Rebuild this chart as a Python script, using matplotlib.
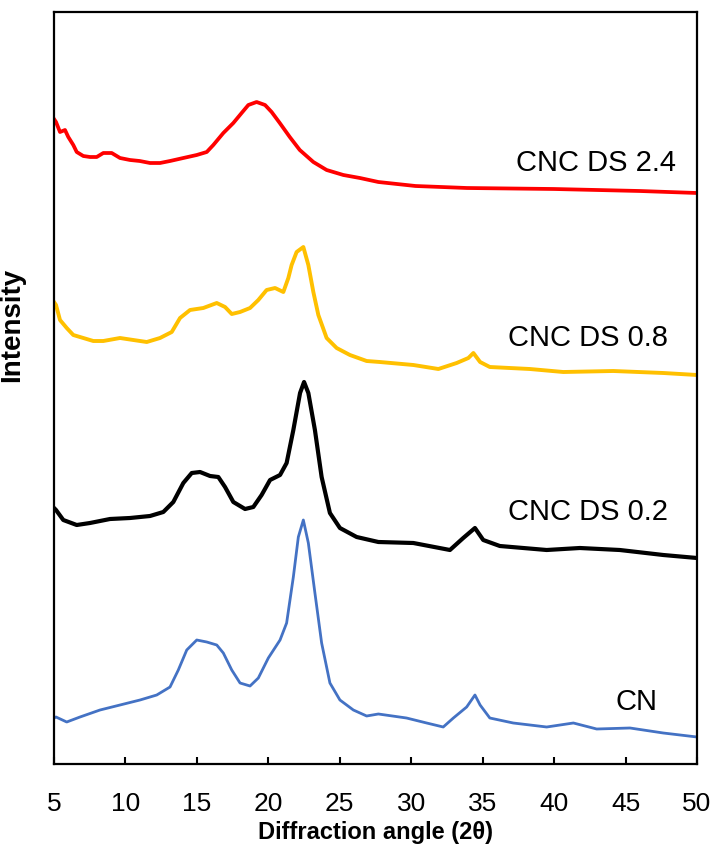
import matplotlib
matplotlib.use("Agg")
import matplotlib.pyplot as plt

plt.rcParams['font.family'] = ['Liberation Sans', 'DejaVu Sans']

# XRD patterns, stacked with a vertical offset (intensity in a.u.)
cn_x = [5.0, 5.14, 5.89, 6.82, 8.22, 9.62, 11.02, 12.19, 13.12, 13.7, 14.29, 14.99, 15.69,
        16.39, 16.85, 17.44, 18.02, 18.72, 19.3, 20.0, 20.82, 21.28, 21.75, 22.1, 22.45,
        22.8, 23.26, 23.73, 24.31, 25.01, 25.95, 26.88, 27.7, 29.67, 31.08, 32.24, 32.95,
        33.88, 34.46, 34.82, 35.5, 37.14, 39.48, 41.35, 42.98, 45.31, 47.64, 50.0]
cn_y = [46, 47, 42, 47, 54, 59, 64, 69, 77, 94, 114, 124, 122,
        119, 111, 94, 81, 78, 86, 106, 124, 141, 187, 227, 244,
        221, 171, 121, 81, 64, 54, 48, 50, 46, 41, 37, 46,
        57, 69, 59, 46, 41, 37, 41, 35, 36, 31, 27]

ds02_x = [5.0, 5.14, 5.65, 6.59, 7.52, 8.92, 10.32, 11.72, 12.65, 13.35, 14.05, 14.64,
          15.22, 15.92, 16.5, 16.97, 17.55, 18.37, 18.95, 19.53, 20.12, 20.82, 21.28,
          21.75, 22.22, 22.5, 22.8, 23.26, 23.73, 24.31, 25.01, 26.18, 27.7, 30.15,
          32.71, 33.64, 34.46, 35.04, 36.2, 39.48, 41.8, 44.6, 47.64, 50.0]
ds02_y = [256, 254, 244, 239, 241, 245, 246, 248, 252, 262, 281, 291,
          292, 288, 287, 277, 262, 255, 257, 269, 284, 289, 301,
          334, 371, 382, 371, 334, 287, 251, 236, 227, 222, 221,
          214, 226, 236, 224, 218, 214, 216, 214, 209, 206]

ds08_x = [5.0, 5.14, 5.42, 5.89, 6.35, 7.05, 7.75, 8.45, 9.62, 10.55, 11.49, 12.42, 13.24,
          13.82, 14.52, 15.45, 16.39, 16.97, 17.44, 18.02, 18.72, 19.3, 19.88, 20.47,
          21.05, 21.4, 21.63, 21.98, 22.45, 22.8, 23.15, 23.5, 24.08, 24.78, 25.71,
          26.88, 27.8, 30.15, 31.9, 33.18, 34.0, 34.35, 34.82, 35.5, 38.3, 40.64,
          44.14, 47.64, 50.0]
ds08_y = [462, 459, 444, 436, 429, 426, 423, 423, 426, 424, 422, 426, 432,
          446, 454, 456, 461, 457, 450, 452, 456, 464, 474, 476,
          472, 486, 499, 512, 517, 499, 472, 449, 426, 416, 409,
          403, 402, 399, 395, 401, 406, 411, 402, 397, 395, 392,
          393, 391, 389]

ds24_x = [5.0, 5.14, 5.42, 5.77, 6.0, 6.35, 6.59, 7.05, 7.52, 7.99, 8.45, 9.04, 9.62,
          10.32, 11.0, 11.72, 12.42, 13.12, 14.05, 14.99, 15.69, 16.15, 16.85, 17.55,
          18.13, 18.6, 19.18, 19.77, 20.23, 20.8, 21.5, 22.2, 23.15, 24.08, 25.25,
          26.41, 27.7, 30.3, 33.9, 40.0, 46.0, 50.0]
ds24_y = [645, 642, 632, 634, 627, 619, 612, 608, 607, 607, 611, 611, 606,
          604, 603, 601, 601, 603, 606, 609, 612, 619, 631, 641,
          651, 659, 662, 659, 652, 641, 627, 614, 602, 594, 589,
          586, 582, 578, 576, 575, 573, 571]

labels = ['CN', 'CNC DS 0.2', 'CNC DS 0.8', 'CNC DS 2.4']
colors = ['#4472C4', '#000000', '#FFC000', '#FF0000']
widths = [2.0, 3.0, 2.8, 2.7]
label_x = [44.3, 36.8, 36.8, 37.3]
label_y = [62, 252, 426, 601]

fig = plt.figure(figsize=(7.13, 8.44), dpi=100)
ax = fig.add_axes([54 / 713, 80 / 844, 643 / 713, 752 / 844])

series = [(cn_x, cn_y), (ds02_x, ds02_y), (ds08_x, ds08_y), (ds24_x, ds24_y)]
for (xs, ys), c, lw in zip(series, colors, widths):
    ax.plot(xs, ys, color=c, lw=lw)

for name, tx, ty in zip(labels, label_x, label_y):
    ax.text(tx, ty, name, fontsize=21, va='center', ha='left')

ax.set_xlim(5, 50)
ax.set_ylim(0, 752)
ax.set_xticks(range(5, 51, 5))
ax.set_yticks([])
ax.tick_params(axis='x', direction='in', length=5, width=1.5, labelsize=19, pad=20)
for sp in ax.spines.values():
    sp.set_linewidth(1.6)

ax.set_xlabel('Diffraction angle (2θ)', fontsize=17, fontweight='bold', labelpad=4)
ax.set_ylabel('Intensity', fontsize=20, fontweight='bold')
ax.yaxis.set_label_coords(-0.045, 0.584)

fig.savefig('out.png', dpi=100)
